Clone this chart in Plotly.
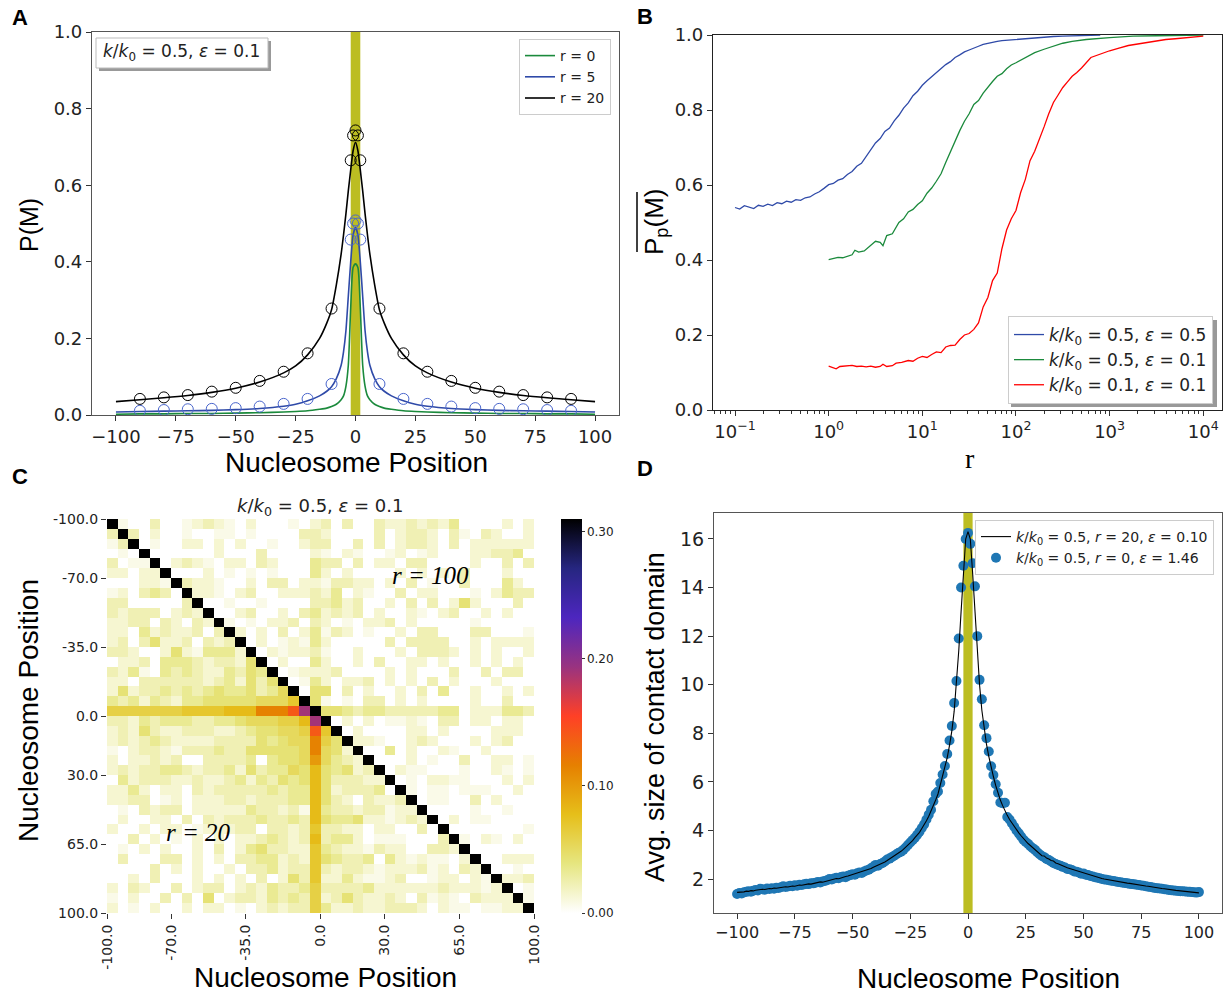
import plotly.graph_objects as go

W, H = 1223, 993
def px(x): return x / W
def py(y): return 1 - y / H

GREEN = '#1b8a3c'
BLUE = '#2f4aa8'
BLUE_C = '#4a66cc'
TICKF = 'DejaVu Sans'
TITLEF = 'Liberation Sans, Arial, sans-serif'

# ---------------- Panel A data ----------------
a_x = [-100, -90, -80, -70, -60, -50, -40, -30, -25, -20, -15, -12, -10, -8, -6, -5, -4, -3, -2, -1, 0,
       1, 2, 3, 4, 5, 6, 8, 10, 12, 15, 20, 25, 30, 40, 50, 60, 70, 80, 90, 100]
a_r20 = [0.035, 0.040, 0.045, 0.051, 0.059, 0.070, 0.086, 0.110, 0.128, 0.157, 0.200, 0.240, 0.275, 0.340, 0.420,
         0.470, 0.525, 0.585, 0.640, 0.690, 0.712,
         0.690, 0.640, 0.585, 0.525, 0.470, 0.420, 0.340, 0.275, 0.240, 0.200, 0.157, 0.128, 0.110, 0.086, 0.070,
         0.059, 0.051, 0.045, 0.040, 0.035]
a_r5 = [0.008, 0.009, 0.010, 0.011, 0.012, 0.014, 0.017, 0.023, 0.028, 0.037, 0.050, 0.062, 0.074, 0.095, 0.130,
        0.165, 0.220, 0.310, 0.400, 0.470, 0.490,
        0.470, 0.400, 0.310, 0.220, 0.165, 0.130, 0.095, 0.074, 0.062, 0.050, 0.037, 0.028, 0.023, 0.017, 0.014,
        0.012, 0.011, 0.010, 0.009, 0.008]
a_r0 = [0.002, 0.003, 0.003, 0.004, 0.004, 0.005, 0.006, 0.008, 0.009, 0.011, 0.015, 0.018, 0.022, 0.028, 0.040,
        0.050, 0.075, 0.130, 0.280, 0.385, 0.395,
        0.385, 0.280, 0.130, 0.075, 0.050, 0.040, 0.028, 0.022, 0.018, 0.015, 0.011, 0.009, 0.008, 0.006, 0.005,
        0.004, 0.004, 0.003, 0.003, 0.002]
a_cx = [-90, -80, -70, -60, -50, -40, -30, -20, -10, -2, -1, 0, 1, 2, 10, 20, 30, 40, 50, 60, 70, 80, 90]
a_c20 = [0.042, 0.046, 0.052, 0.061, 0.071, 0.089, 0.113, 0.161, 0.278, 0.665, 0.730, 0.743, 0.730, 0.665,
         0.278, 0.161, 0.113, 0.089, 0.071, 0.061, 0.052, 0.046, 0.042]
a_c5 = [0.011, 0.013, 0.015, 0.016, 0.018, 0.022, 0.029, 0.042, 0.081, 0.458, 0.500, 0.508, 0.500, 0.458,
        0.081, 0.042, 0.029, 0.022, 0.018, 0.016, 0.015, 0.013, 0.011]

# ---------------- Panel B data (log10 r, value) ----------------
b_blue_lr = [-1.00, -0.95, -0.90, -0.85, -0.80, -0.75, -0.70, -0.65, -0.60, -0.55, -0.50, -0.45, -0.40, -0.35,
             -0.30, -0.25, -0.20, -0.15, -0.10, -0.05, 0.00, 0.05, 0.10, 0.15, 0.20, 0.25, 0.30, 0.35, 0.40,
             0.45, 0.50, 0.55, 0.60, 0.65, 0.70, 0.75, 0.80, 0.85, 0.90, 0.95, 1.00, 1.05, 1.10, 1.15, 1.20,
             1.25, 1.30, 1.35, 1.40, 1.45, 1.50, 1.55, 1.60, 1.65, 1.70, 1.75, 1.80, 1.85, 1.90, 1.95, 2.00,
             2.10, 2.20, 2.30, 2.40, 2.50, 2.60, 2.70, 2.80, 2.90]
b_blue = [0.540, 0.536, 0.545, 0.541, 0.537, 0.546, 0.543, 0.549, 0.545, 0.553, 0.550, 0.557, 0.554, 0.561,
          0.559, 0.566, 0.568, 0.576, 0.582, 0.591, 0.601, 0.604, 0.613, 0.617, 0.628, 0.636, 0.650, 0.658,
          0.675, 0.693, 0.712, 0.724, 0.743, 0.752, 0.771, 0.786, 0.805, 0.819, 0.838, 0.850, 0.866, 0.878,
          0.889, 0.901, 0.910, 0.921, 0.929, 0.940, 0.947, 0.955, 0.960, 0.966, 0.970, 0.975, 0.978, 0.981,
          0.983, 0.985, 0.986, 0.988, 0.989, 0.991, 0.993, 0.995, 0.996, 0.997, 0.998, 0.999, 0.999, 1.000]
b_green_lr = [0.00, 0.05, 0.10, 0.15, 0.20, 0.25, 0.28, 0.32, 0.38, 0.45, 0.50, 0.55, 0.58, 0.62, 0.68, 0.75,
              0.80, 0.85, 0.90, 0.95, 1.00, 1.05, 1.10, 1.15, 1.20, 1.25, 1.30, 1.35, 1.40, 1.45, 1.50, 1.55,
              1.60, 1.65, 1.70, 1.75, 1.80, 1.85, 1.90, 1.95, 2.00, 2.10, 2.20, 2.30, 2.40, 2.50, 2.60, 2.75,
              3.00, 3.25, 3.50, 3.75, 4.00]
b_green = [0.401, 0.404, 0.407, 0.406, 0.410, 0.414, 0.426, 0.421, 0.424, 0.440, 0.450, 0.447, 0.438, 0.465,
           0.470, 0.500, 0.510, 0.528, 0.535, 0.548, 0.558, 0.578, 0.592, 0.610, 0.630, 0.660, 0.690, 0.715,
           0.745, 0.770, 0.790, 0.815, 0.825, 0.845, 0.862, 0.876, 0.890, 0.897, 0.910, 0.920, 0.926, 0.940,
           0.953, 0.962, 0.970, 0.978, 0.983, 0.988, 0.993, 0.997, 0.998, 0.999, 1.000]
b_red_lr = [0.00, 0.05, 0.08, 0.12, 0.20, 0.25, 0.30, 0.35, 0.40, 0.45, 0.50, 0.55, 0.58, 0.62, 0.68, 0.72,
            0.78, 0.85, 0.90, 0.95, 1.00, 1.05, 1.10, 1.15, 1.20, 1.25, 1.30, 1.35, 1.40, 1.45, 1.50, 1.55,
            1.60, 1.65, 1.70, 1.75, 1.80, 1.85, 1.90, 1.95, 2.00, 2.05, 2.10, 2.15, 2.20, 2.25, 2.30, 2.35,
            2.40, 2.45, 2.50, 2.55, 2.60, 2.65, 2.70, 2.80, 2.90, 3.00, 3.10, 3.20, 3.30, 3.40, 3.50, 3.60,
            3.70, 3.80, 3.90, 4.00]
b_red = [0.117, 0.113, 0.110, 0.116, 0.117, 0.119, 0.116, 0.117, 0.115, 0.117, 0.114, 0.116, 0.122, 0.116,
         0.118, 0.125, 0.127, 0.132, 0.130, 0.138, 0.143, 0.140, 0.148, 0.155, 0.153, 0.168, 0.172, 0.173,
         0.188, 0.200, 0.204, 0.215, 0.232, 0.275, 0.300, 0.345, 0.365, 0.430, 0.480, 0.510, 0.532, 0.580,
         0.615, 0.665, 0.690, 0.720, 0.755, 0.790, 0.820, 0.840, 0.860, 0.875, 0.890, 0.900, 0.912, 0.940,
         0.950, 0.958, 0.965, 0.972, 0.976, 0.980, 0.985, 0.988, 0.990, 0.993, 0.995, 0.997]

# ---------------- Panel C data (40x40 contact map, level codes) ----------------
c_levels = {'.': 0.0, '1': 0.007, '2': 0.014, '3': 0.023, '4': 0.033, '5': 0.043, '6': 0.052, '7': 0.061,
            '8': 0.07, '9': 0.08, 'o': 0.10, 'O': 0.115, 'r': 0.14, 'p': 0.19, 'X': 0.31}
c_rows = [
    "X1..3..123 21.2...1.2 3.3..32232 324....2.2",
    "3X3.2..1.. 11.1....33 2....3.233 2.31.32..2",
    "13X.1..22. 2.2..1..23 3..3.3.233 2.3.222222",
    ".1.X...... 2...3....2 1.21..12.1 2...22334.",
    "3.11X.2321 .22.32...4 33.3.22.33 ....2..3.3",
    "22.22X...2 .1.1.1...4 2.2....2.2 .2.3...2..",
    "...221X322 1..2.33.22 13322.2.3. 1..3...42.",
    "12.343.X22 1.23..2223 24.21..3.2 2...1.2433",
    "33.....3X. .1..1....3 3423..2.3. 3.252...3.",
    "32333.232X ..23..2.34 2323.2..21 .23..2.2..",
    "2233.32.32 X1.1.223.3 2.1.223.2. ....1.....",
    "22.423223. 3X2.2.3.24 132.1..2.3 3...33...1",
    "23.35223.3 23X.2.1214 2.....3.33 33..2.2222",
    "332..25214 442X.21223 1..2...2.3 332.2.2..2",
    ".223.44432 3325X.2..4 2..2.3..22 .2..2.2.2.",
    "3241.43432 24354X.122 23....2.2. ..3..3.33.",
    "22.3333332 342535X.14 2.223.2.2. 3.2...2...",
    "2523343434 5445346X.5 5.3.2..2.3 .4..2..2.2",
    "4342432445 55556668X5 1.1.33.2.2 ....2..3..",
    "7777777888 8999OOOrpX 5543443333 344.222443",
    "3324344433 445666779p X.2.2.1121 .33.22.22.",
    "2325322333 223455667r 8X.2....22 .2....222.",
    "2323432222 333354566O 75X221..23 2...2.23..",
    "1.23321333 433555556O 652X..4.2. .21..2....",
    "2.22323..3 3334.4556o 6432X...2. 1..3..22.1",
    "2323344323 3425344659 54523X.211 ...1..21.1",
    ".423332232 2342435459 533322X.1. 2211...2.2",
    "2242.22.32 3333343449 523334.X1. 11.111..2.",
    "2233.12.22 2332333449 532.3223X. 11..3.2...",
    ".1.3233.22 2224332319 433233122X ....1..1..",
    ".2..22.3.3 2333433439 5445221232 X.2.11....",
    "2..2.22.12 2233.33238 3322.22..3 .X.......1",
    "..3.2.1.2. 2.22343239 3442.111.. .3X1.21.2.",
    ".1.2.2..2. 3.24533228 43221322.. 332X......",
    ".3...33.2. 2.33442328 54334.4212 11.2X..222",
    "....3.2.2. .2.3342338 3233212223 12.32X..1.",
    "..2.3...2. 2.2.3.2538 22421123.. 122.21X223",
    "2.32..3.23 3.23243347 3333422222 2322212X.1",
    "1.2..3.3.5 .233243437 23532232.3 121.3222X1",
    "2.1.2..2.2 2.1.232337 4223223332 .211.1122X",
]
c_ticks = [-100, -70, -35, 0, 30, 65, 100]
c_ticktext = ['-100.0', '-70.0', '-35.0', '0.0', '30.0', '65.0', '100.0']

# ---------------- Panel D data ----------------
d_x = list(range(-100, 101))
d_dots = [
    1.38, 1.42, 1.40, 1.45, 1.47, 1.50, 1.48, 1.52, 1.55, 1.53,
    1.60, 1.58, 1.56, 1.61, 1.59, 1.62, 1.60, 1.64, 1.63, 1.66,
    1.70, 1.67, 1.69, 1.72, 1.70, 1.74, 1.72, 1.76, 1.75, 1.78,
    1.80, 1.79, 1.83, 1.82, 1.85, 1.88, 1.86, 1.90, 1.92, 1.95,
    2.00, 1.98, 2.02, 2.05, 2.03, 2.08, 2.10, 2.07, 2.13, 2.16,
    2.20, 2.18, 2.24, 2.27, 2.25, 2.31, 2.35, 2.38, 2.44, 2.50,
    2.58, 2.55, 2.62, 2.66, 2.72, 2.80, 2.84, 2.90, 2.96, 3.02,
    3.08, 3.12, 3.20, 3.30, 3.40, 3.50, 3.60, 3.70, 3.82, 3.95,
    4.10, 4.25, 4.45, 4.65, 4.85, 5.20, 5.50, 5.60, 5.95, 6.30,
    6.65, 7.15, 7.70, 8.30, 9.25, 10.15, 11.90, 14.00, 14.90, 16.00,
    16.25,
    15.80, 15.00, 14.05, 12.00, 10.20, 9.40, 8.33, 7.80, 7.25, 6.64,
    6.28, 5.90, 5.55, 5.15, 5.12, 5.14, 4.55, 4.45, 4.30, 4.15,
    4.00, 3.88, 3.75, 3.62, 3.52, 3.45, 3.35, 3.27, 3.20, 3.10,
    3.02, 2.95, 2.90, 2.82, 2.78, 2.72, 2.66, 2.62, 2.58, 2.55,
    2.50, 2.47, 2.41, 2.40, 2.37, 2.31, 2.30, 2.27, 2.22, 2.23,
    2.18, 2.16, 2.12, 2.10, 2.07, 2.05, 2.03, 2.00, 1.98, 1.97,
    1.95, 1.93, 1.92, 1.90, 1.88, 1.87, 1.85, 1.84, 1.82, 1.80,
    1.79, 1.78, 1.76, 1.75, 1.73, 1.72, 1.70, 1.68, 1.67, 1.65,
    1.63, 1.62, 1.61, 1.60, 1.58, 1.57, 1.55, 1.54, 1.53, 1.52,
    1.51, 1.50, 1.50, 1.49, 1.48, 1.47, 1.46, 1.45, 1.44, 1.46,
]
d_line = [
    1.45, 1.46, 1.44, 1.47, 1.50, 1.49, 1.52, 1.51, 1.54, 1.56,
    1.57, 1.58, 1.57, 1.60, 1.61, 1.60, 1.63, 1.62, 1.64, 1.66,
    1.66, 1.68, 1.67, 1.70, 1.71, 1.70, 1.73, 1.75, 1.74, 1.77,
    1.78, 1.80, 1.79, 1.82, 1.84, 1.85, 1.88, 1.87, 1.90, 1.93,
    1.95, 1.97, 2.00, 2.02, 2.01, 2.05, 2.08, 2.10, 2.12, 2.15,
    2.18, 2.20, 2.22, 2.26, 2.28, 2.32, 2.35, 2.40, 2.43, 2.48,
    2.52, 2.58, 2.62, 2.66, 2.70, 2.76, 2.82, 2.88, 2.94, 3.00,
    3.06, 3.14, 3.22, 3.30, 3.40, 3.48, 3.58, 3.70, 3.80, 3.92,
    4.08, 4.22, 4.40, 4.58, 4.78, 5.00, 5.25, 5.50, 5.85, 6.20,
    6.60, 7.00, 7.50, 8.10, 8.90, 10.00, 11.40, 13.00, 14.60, 16.00,
    16.30,
    16.00, 14.60, 13.00, 11.40, 10.00, 8.95, 8.15, 7.55, 7.05, 6.60,
    6.22, 5.85, 5.50, 5.25, 5.02, 4.80, 4.62, 4.45, 4.30, 4.16,
    4.02, 3.90, 3.78, 3.66, 3.56, 3.46, 3.38, 3.30, 3.22, 3.14,
    3.08, 2.96, 2.95, 2.86, 2.82, 2.76, 2.74, 2.66, 2.63, 2.58,
    2.54, 2.50, 2.46, 2.43, 2.40, 2.36, 2.33, 2.29, 2.27, 2.24,
    2.21, 2.18, 2.15, 2.12, 2.10, 2.07, 2.05, 2.02, 2.00, 1.98,
    1.96, 1.95, 1.93, 1.91, 1.89, 1.88, 1.86, 1.85, 1.83, 1.82,
    1.80, 1.79, 1.77, 1.76, 1.74, 1.73, 1.71, 1.70, 1.68, 1.67,
    1.65, 1.64, 1.63, 1.61, 1.60, 1.58, 1.57, 1.56, 1.54, 1.53,
    1.52, 1.51, 1.50, 1.49, 1.48, 1.47, 1.46, 1.45, 1.44, 1.43,
]

# ---------------- Figure ----------------
fig = go.Figure()

# Panel A
for yv, col, nm in [(a_r0, GREEN, 'r = 0'), (a_r5, BLUE, 'r = 5'), (a_r20, 'black', 'r = 20')]:
    fig.add_trace(go.Scatter(x=a_x, y=yv, mode='lines', name=nm, xaxis='x', yaxis='y', legend='legend',
                             line=dict(color=col, width=1.6, shape='spline', smoothing=0.6)))
fig.add_trace(go.Scatter(x=a_cx, y=a_c5, mode='markers', showlegend=False, xaxis='x', yaxis='y',
                         marker=dict(symbol='circle-open', size=11, color=BLUE_C, line=dict(width=1, color=BLUE_C))))
fig.add_trace(go.Scatter(x=a_cx, y=a_c20, mode='markers', showlegend=False, xaxis='x', yaxis='y',
                         marker=dict(symbol='circle-open', size=11, color='black', line=dict(width=1, color='black'))))

# Panel B
lbl = '<i>k</i>/<i>k</i><sub>0</sub> = {}, <i>ε</i> = {}'
for lr, yv, col, nm in [(b_blue_lr, b_blue, BLUE, lbl.format('0.5', '0.5')),
                        (b_green_lr, b_green, GREEN, lbl.format('0.5', '0.1')),
                        (b_red_lr, b_red, 'red', lbl.format('0.1', '0.1'))]:
    fig.add_trace(go.Scatter(x=[10 ** v for v in lr], y=yv, mode='lines', name=nm, xaxis='x2', yaxis='y2',
                             legend='legend2', line=dict(color=col, width=1.3)))

# Panel C
Z = []
for row in c_rows:
    s = row.replace(' ', '')
    Z.append([c_levels[ch] for ch in s])
centers = [-100 + 2.5 + 5 * i for i in range(40)]
cmr = [[0, 'rgb(255,255,255)'], [0.125, 'rgb(230,230,128)'], [0.25, 'rgb(230,191,26)'],
       [0.375, 'rgb(230,128,0)'], [0.5, 'rgb(255,64,38)'], [0.625, 'rgb(153,51,128)'],
       [0.75, 'rgb(77,38,191)'], [0.875, 'rgb(38,38,128)'], [1, 'rgb(0,0,0)']]
fig.add_trace(go.Heatmap(z=Z, x=centers, y=centers, colorscale=cmr, zmin=0, zmax=0.31, xaxis='x3', yaxis='y3',
                         showscale=True,
                         colorbar=dict(x=px(561), xanchor='left', y=py(913), yanchor='bottom', len=394 / H,
                                       lenmode='fraction', thickness=21, thicknessmode='pixels', outlinewidth=0,
                                       xpad=0, ypad=0, ticks='outside', ticklen=3, tickcolor='#333',
                                       tickvals=[0, 0.1, 0.2, 0.3], ticktext=['0.00', '0.10', '0.20', '0.30'],
                                       tickfont=dict(family=TICKF, size=12, color='#222'))))

# Panel D
fig.add_trace(go.Scatter(x=d_x, y=d_dots, mode='markers', xaxis='x4', yaxis='y4', legend='legend3',
                         name='<i>k</i>/<i>k</i><sub>0</sub> = 0.5, <i>r</i> = 0, <i>ε</i> = 1.46', legendrank=2,
                         marker=dict(color='#1f77b4', size=10)))
fig.add_trace(go.Scatter(x=d_x, y=d_line, mode='lines', xaxis='x4', yaxis='y4', legend='legend3',
                         name='<i>k</i>/<i>k</i><sub>0</sub> = 0.5, <i>r</i> = 20, <i>ε</i> = 0.10', legendrank=1,
                         line=dict(color='black', width=1.1)))

def ax(**kw):
    base = dict(showgrid=False, zeroline=False, ticks='outside', ticklen=5, tickwidth=1, tickcolor='#333',
                showline=True, linecolor='#555', linewidth=1.2, mirror=True,
                tickfont=dict(family=TICKF, size=18, color='#222'))
    base.update(kw)
    return base

fig.update_layout(
    width=W, height=H, margin=dict(l=0, r=0, t=0, b=0, autoexpand=False),
    paper_bgcolor='white', plot_bgcolor='white',
    xaxis=ax(domain=[px(92), px(619)], range=[-110, 110], anchor='y',
             tickvals=[-100, -75, -50, -25, 0, 25, 50, 75, 100]),
    yaxis=ax(domain=[py(415), py(32)], range=[0, 1], anchor='x', dtick=0.2, tickformat='.1f'),
    xaxis2=ax(domain=[px(713), px(1222)], type='log', range=[-1.235, 4.2], anchor='y2',
              tickvals=[0.1, 1, 10, 100, 1000, 10000],
              ticktext=['10<sup>−1</sup>', '10<sup>0</sup>', '10<sup>1</sup>', '10<sup>2</sup>',
                        '10<sup>3</sup>', '10<sup>4</sup>'],
              linecolor='#222',
              minor=dict(ticks='outside', ticklen=3, tickcolor='#333',
                         tickvals=[m * 10 ** d for d in range(-2, 5) for m in range(2, 10)])),
    yaxis2=ax(domain=[py(410), py(35)], range=[0, 1], anchor='x2', dtick=0.2, tickformat='.1f', linecolor='#222'),
    xaxis3=dict(domain=[px(107), px(534)], range=[-100, 100], anchor='y3', showgrid=False, zeroline=False,
                showline=False, ticks='outside', ticklen=5, tickcolor='#333', tickvals=c_ticks,
                ticktext=c_ticktext, tickangle=-90, tickfont=dict(family=TICKF, size=14, color='#222')),
    yaxis3=dict(domain=[py(913), py(519)], range=[100, -100], anchor='x3', showgrid=False, zeroline=False,
                showline=False, ticks='outside', ticklen=5, tickcolor='#333', tickvals=c_ticks,
                ticktext=c_ticktext, tickfont=dict(family=TICKF, size=14, color='#222')),
    xaxis4=ax(domain=[px(714), px(1222)], range=[-110, 110], anchor='y4',
              tickvals=[-100, -75, -50, -25, 0, 25, 50, 75, 100], tickfont=dict(family=TICKF, size=16, color='#222')),
    yaxis4=ax(domain=[py(913), py(513)], range=[0.6, 17.07], anchor='x4',
              tickvals=[2, 4, 6, 8, 10, 12, 14, 16], tickfont=dict(family=TICKF, size=19, color='#222')),
    legend=dict(x=px(611), y=py(39), xanchor='right', yanchor='top', bgcolor='white', bordercolor='#ccc',
                borderwidth=1, font=dict(family=TICKF, size=14, color='#222'), itemwidth=30, tracegroupgap=0),
    legend2=dict(x=px(1213), y=py(316), xanchor='right', yanchor='top', bgcolor='white', bordercolor='#ccc',
                 borderwidth=1, font=dict(family=TICKF, size=17, color='#222'), itemwidth=30),
    legend3=dict(x=px(1214), y=py(520), xanchor='right', yanchor='top', bgcolor='white', bordercolor='#ccc',
                 borderwidth=1, font=dict(family=TICKF, size=14, color='#222'), itemwidth=30),
    showlegend=True,
)

shapes = [
    # highlighted nucleosome band in A and D
    dict(type='rect', xref='x', yref='y domain', x0=-2, x1=2, y0=0, y1=1, fillcolor='#bcbd22',
         line=dict(width=0), layer='below'),
    dict(type='rect', xref='x4', yref='y4 domain', x0=-2, x1=2, y0=0, y1=1, fillcolor='#bcbd22',
         line=dict(width=0), layer='below'),
    # text box with shadow in A
    dict(type='rect', xref='paper', yref='paper', x0=px(99), x1=px(271), y0=py(71), y1=py(41),
         fillcolor='#999', line=dict(width=0)),
    dict(type='rect', xref='paper', yref='paper', x0=px(96), x1=px(268), y0=py(68), y1=py(38),
         fillcolor='white', line=dict(color='#bbb', width=1)),
    # legend shadow in B
    dict(type='rect', xref='paper', yref='paper', x0=px(1011), x1=px(1217), y0=py(407), y1=py(320),
         fillcolor='#999', line=dict(width=0)),
    # overline for the B y-title
    dict(type='line', xref='paper', yref='paper', x0=px(637), x1=px(637), y0=py(252), y1=py(192),
         line=dict(color='black', width=1.5)),
]
fig.update_layout(shapes=shapes)

ann = []
def A(x, y, text, size, family=TITLEF, angle=0, color='black', **kw):
    ann.append(dict(xref='paper', yref='paper', x=px(x), y=py(y), text=text, showarrow=False,
                    textangle=angle, xanchor='center', yanchor='middle',
                    font=dict(family=family, size=size, color=color), **kw))

A(20, 18, '<b>A</b>', 22)
A(645, 16, '<b>B</b>', 22)
A(20, 476, '<b>C</b>', 22)
A(645, 468, '<b>D</b>', 22)
A(29, 225, 'P(M)', 25, angle=-90)
A(356, 463, 'Nucleosome Position', 28)
A(181, 53, '<i>k</i>/<i>k</i><sub>0</sub> = 0.5, <i>ε</i> = 0.1', 17, family=TICKF, color='#222')
A(655, 222, 'P<sub>p</sub>(M)', 26, angle=-90)
A(970, 458, 'r', 28, family='Liberation Serif, DejaVu Serif, serif')
A(320, 507, '<i>k</i>/<i>k</i><sub>0</sub> = 0.5, <i>ε</i> = 0.1', 18, family=TICKF, color='#222')
A(28, 711, 'Nucleosome Position', 28, angle=-90)
A(325, 977, 'Nucleosome Position', 28)
A(430, 575, '<i>r = 100</i>', 25, family='Liberation Serif, serif')
A(198, 832, '<i>r = 20</i>', 25, family='Liberation Serif, serif')
A(655, 717, 'Avg. size of contact domain', 27, angle=-90)
A(988, 978, 'Nucleosome Position', 28)
fig.update_layout(annotations=ann)

fig.write_html("out.html")
